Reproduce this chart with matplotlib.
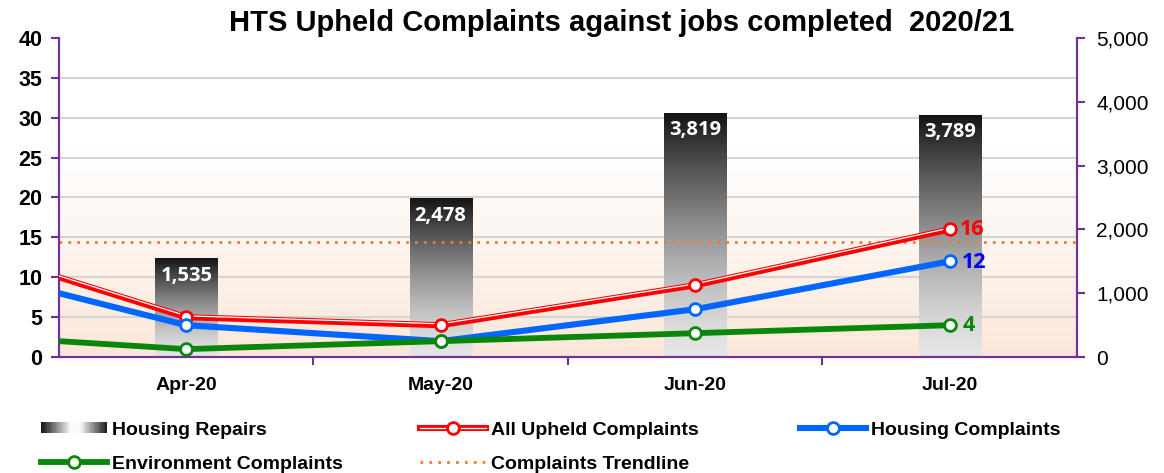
import matplotlib
matplotlib.use("Agg")
import matplotlib.pyplot as plt
import matplotlib.transforms as mtransforms
import numpy as np
from matplotlib.patches import Rectangle
from matplotlib.lines import Line2D
from matplotlib.legend_handler import HandlerBase, HandlerTuple

months = ['Apr-20', 'May-20', 'Jun-20', 'Jul-20']
housing_repairs = [1535, 2478, 3819, 3789]
# first value of each line series is Mar-20, it sits just off the left edge
all_upheld = [15, 5, 4, 9, 16]
housing_compl = [12, 4, 2, 6, 12]
env_compl = [3, 1, 2, 3, 4]
trend_value = 14.4

purple = '#7030a0'
red = '#ff0000'
blue = '#0066ff'
green = '#0a870a'
orange = '#ed7d31'

plt.rcParams['font.family'] = ['Liberation Sans', 'DejaVu Sans']

fig = plt.figure(figsize=(11.64, 4.73), dpi=100)
ax = fig.add_axes([0.0507, 0.245, 0.8745, 0.675])
ax2 = ax.twinx()

x = np.arange(len(months))
xl = np.arange(-1, len(months))

# background: white on top, light peach at the bottom
h = 256
yy = np.linspace(0, 1, h)
f = np.clip((0.65 - yy) / 0.65, 0, 1) ** 1.1
peach = np.array([251, 231, 216]) / 255.0
bg = np.ones((h, 2, 3))
for k in range(3):
    bg[:, :, k] = (1 - f[:, None]) * 1.0 + f[:, None] * peach[k]
ax.imshow(bg, extent=[0, 1, 0, 1], transform=ax.transAxes, origin='lower',
          aspect='auto', zorder=0)

# bars with vertical gradient
bw = 0.245
bars = ax.bar(x, housing_repairs, width=bw, color='none', zorder=2)
t = np.linspace(0, 1, 256)
for b, val in zip(bars, housing_repairs):
    x0 = b.get_x()
    top_dark = 0.08
    bottom_light = 0.90
    g = bottom_light - (bottom_light - top_dark) * t ** 1.4
    grad = np.repeat(np.repeat(g[:, None], 2, axis=1)[:, :, None], 3, axis=2)
    ax.imshow(grad, extent=[x0, x0 + bw, 0, val], origin='lower',
              aspect='auto', zorder=2)
    ax.annotate(f'{val:,}', (x0 + bw / 2, val), xytext=(0, -5),
                textcoords='offset points', ha='center', va='top',
                color='white', fontsize=14.5, fontweight='bold',
                fontfamily='Open Sans', zorder=3)

ax.set_xlim(-0.5, 3.5)
ax.set_ylim(0, 5000)
ax.yaxis.tick_right()
ax.set_yticks(np.arange(0, 5001, 1000))
ax.set_yticklabels([f'{v:,}' for v in range(0, 5001, 1000)], fontsize=15)
ax.set_yticks(np.arange(0, 5001, 625), minor=True)
ax.tick_params(axis='y', which='minor', length=0, right=False)
ax.tick_params(axis='y', which='major', length=6, width=1.5, color=purple, pad=8)
ax.grid(axis='y', which='minor', color='#d4d4d4', lw=1.5)
ax.set_axisbelow(True)

ax.set_xticks(x)
ax.set_xticklabels(months, fontsize=14, fontweight='bold')
ax.set_xticks([0.5, 1.5, 2.5], minor=True)
ax.tick_params(axis='x', which='major', length=0, pad=14)
ax.tick_params(axis='x', which='minor', length=6, width=1.5, color=purple)

for a in (ax, ax2):
    a.spines['top'].set_visible(False)
    for s in ('left', 'right', 'bottom'):
        a.spines[s].set_color(purple)
        a.spines[s].set_linewidth(1.5)

# lines on the left scale
ax2.set_ylim(0, 40)
ax2.yaxis.tick_left()
ax2.set_yticks(np.arange(0, 41, 5))
ax2.set_yticklabels([str(v) for v in range(0, 41, 5)], fontsize=15.5, fontweight='bold')
ax2.tick_params(axis='y', length=6, width=1.5, color=purple, pad=6)
ax2.set_xlim(-0.5, 3.5)

ax2.axhline(trend_value, color=orange, ls=(0, (1, 2.2)), lw=2, zorder=2)

ax2.plot(xl, all_upheld, color=red, lw=4.4, zorder=3, solid_capstyle='butt')
shift = mtransforms.offset_copy(ax2.transData, fig=fig, x=0, y=1.0, units='points')
ax2.plot(xl, all_upheld, color='white', lw=0.9, zorder=3.1, transform=shift)
ax2.plot(xl, all_upheld, 'o', ls='none', mfc='white', mec=red, mew=2, ms=8.5, zorder=3.2)

ax2.plot(xl, housing_compl, color=blue, lw=4.4, zorder=4)
ax2.plot(xl, housing_compl, 'o', ls='none', mfc='white', mec=blue, mew=2, ms=8.5, zorder=4.2)

ax2.plot(xl, env_compl, color=green, lw=4.2, zorder=5)
ax2.plot(xl, env_compl, 'o', ls='none', mfc='white', mec=green, mew=2, ms=8.5, zorder=5.2)

ax2.annotate(str(all_upheld[-1]), (x[-1], all_upheld[-1]), xytext=(7, 0),
             textcoords='offset points', va='center', color=red,
             fontsize=15.5, fontweight='bold', fontfamily='Open Sans')
ax2.annotate(str(housing_compl[-1]), (x[-1], housing_compl[-1]), xytext=(9, -1),
             textcoords='offset points', va='center', color='#0000ff',
             fontsize=15.5, fontweight='bold', fontfamily='Open Sans')
ax2.annotate(str(env_compl[-1]), (x[-1], env_compl[-1]), xytext=(9, 0),
             textcoords='offset points', va='center', color=green,
             fontsize=15.5, fontweight='bold', fontfamily='Open Sans')

fig.text(0.534, 0.952, 'HTS Upheld Complaints against jobs completed  2020/21',
         ha='center', va='center', fontsize=21, fontweight='bold')


class GradientHandler(HandlerBase):
    def create_artists(self, legend, orig_handle, xdescent, ydescent,
                       width, height, fontsize, trans):
        n = 40
        arts = []
        for i in range(n):
            tt = i / (n - 1)
            if tt < 0.45:
                g = 0.08 + 0.9 * (tt / 0.45)
            elif tt < 0.6:
                g = 0.98
            else:
                g = 0.98 - 0.85 * ((tt - 0.6) / 0.4)
            r = Rectangle((-xdescent + i * width / n, -ydescent + 0.1 * height),
                          width / n * 1.1, 0.8 * height, facecolor=(g, g, g),
                          edgecolor='none', transform=trans)
            arts.append(r)
        return arts


repairs_h = Rectangle((0, 0), 1, 1)
red_h = (Line2D([], [], color=red, lw=4.4),
         Line2D([], [], color='white', lw=0.9),
         Line2D([], [], marker='o', ls='none', mfc='white', mec=red, mew=2, ms=8.5))
blue_h = Line2D([], [], color=blue, lw=4.4, marker='o', mfc='white', mec=blue, mew=2, ms=8.5)
green_h = Line2D([], [], color=green, lw=4.2, marker='o', mfc='white', mec=green, mew=2, ms=8.5)
trend_h = Line2D([], [], color=orange, ls=(0, (1, 2.2)), lw=2)

leg_kw = dict(frameon=False, prop={'weight': 'bold', 'size': 14},
              handlelength=3.4, handletextpad=0.25, borderpad=0, borderaxespad=0,
              labelspacing=0.85, loc='upper left',
              handler_map={Rectangle: GradientHandler(),
                           tuple: HandlerTuple(ndivide=1, pad=0)})
fig.legend([repairs_h, green_h], ['Housing Repairs', 'Environment Complaints'],
           bbox_to_anchor=(0.035, 0.11), **leg_kw)
fig.legend([red_h, trend_h], ['All Upheld Complaints', 'Complaints Trendline'],
           bbox_to_anchor=(0.361, 0.11), **leg_kw)
fig.legend([blue_h], ['Housing Complaints'],
           bbox_to_anchor=(0.687, 0.11), **leg_kw)

fig.savefig('out.png', dpi=100)
